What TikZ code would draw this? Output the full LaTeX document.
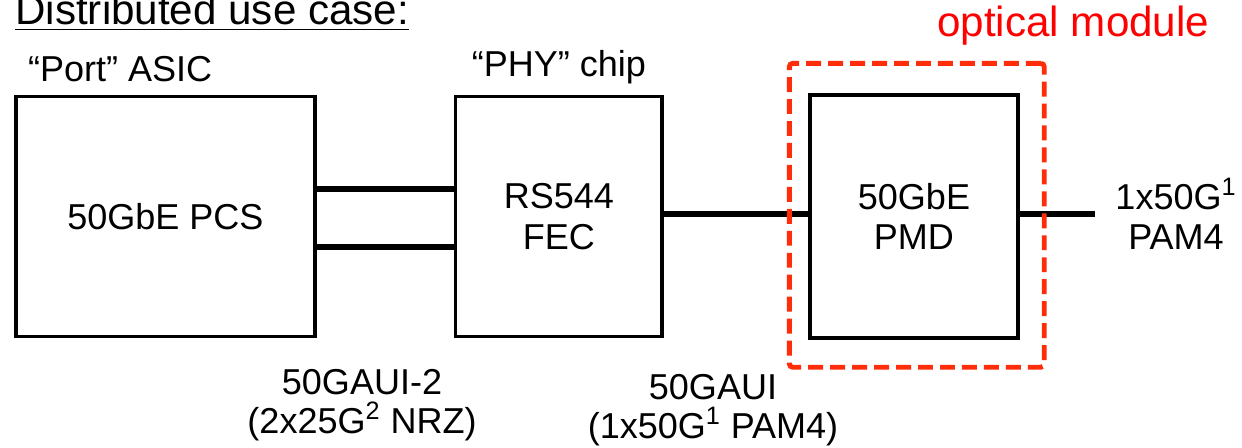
\documentclass[tikz,border=0pt]{standalone}
\usepackage{fontspec}
\setmainfont{Liberation Sans}
\usetikzlibrary{positioning}

\definecolor{optred}{RGB}{255,45,10}

\begin{document}
\begin{tikzpicture}[
    x=0.02cm, y=-0.02cm,
    font=\fontsize{20.5}{23}\selectfont,
    blok/.style={draw, line width=2.2pt, align=center, inner sep=0pt},
    lbl/.style={inner sep=0pt, align=center},
    big/.style={font=\fontsize{24}{28}\selectfont},
    enlace/.style={line width=3.2pt},
    optbox/.style={draw=optred, line width=2.8pt, dash pattern=on 8.5pt off 4pt,
                   rounded corners=2pt},
    node distance=2.75cm
  ]
  \useasboundingbox (0,0) rectangle (1242,448);

  \node[lbl, big, anchor=base west] (titulo) at (15,25) {Distributed use case:};
  \draw[line width=1.1pt] ([yshift=-0.09cm]titulo.base west) -- ([yshift=-0.09cm]titulo.base east);

  \node[blok, minimum width=5.99cm, minimum height=4.8cm] (asic) at (165.4,216.5) {50GbE PCS};
  \node[blok, minimum width=4.14cm, minimum height=4.8cm, right=2.73cm of asic] (phy) {RS544\\FEC};
  \node[blok, minimum width=4.15cm, minimum height=4.87cm, right=2.88cm of phy] (pmd) {50GbE\\PMD};

  \node[lbl, above right=0.24cm and 0.28cm of asic.north west] (asiclbl) {“Port” ASIC};
  \node[lbl, above right=0.2cm and 0.36cm of phy.north west] (phylbl) {“PHY” chip};
  \node[lbl, big, text=red, anchor=base west] (optlbl) at (937,37) {optical module};

  \draw[enlace] ([yshift=0.55cm]asic.east) -- ([yshift=0.55cm]phy.west);
  \draw[enlace] ([yshift=-0.61cm]asic.east) -- ([yshift=-0.61cm]phy.west);
  \draw[enlace] ([yshift=0.05cm]phy.east) -- ([yshift=0.05cm]pmd.west);
  \coordinate (fibra) at ([xshift=1.51cm, yshift=0.05cm]pmd.east);
  \draw[enlace] ([yshift=0.05cm]pmd.east) -- (fibra);

  \node[lbl, right=0.4cm of fibra] (tasa) {1x50G\textsuperscript{1}\\PAM4};
  \node[lbl, font=\fontsize{20.5}{22}\selectfont] (aui2) at (362,405) {50GAUI-2\\(2x25G\textsuperscript{2} NRZ)};
  \node[lbl, font=\fontsize{20.5}{22}\selectfont] (aui1) at (713,410) {50GAUI\\(1x50G\textsuperscript{1} PAM4)};

  % optical module outline
  \node[optbox, minimum width=5.1cm, minimum height=6.08cm] (optmod) at ([xshift=0.056cm, yshift=0.024cm]pmd.center) {};
\end{tikzpicture}
\end{document}
